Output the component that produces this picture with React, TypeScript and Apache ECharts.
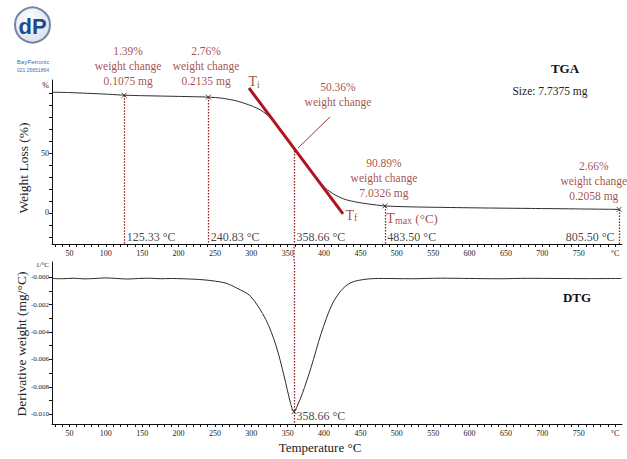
import React, { useEffect, useRef } from 'react';
import * as echarts from 'echarts';

const SERIF = "'Liberation Serif', 'Times New Roman', serif";
const RED = '#8e1c20';
const DARK = '#2b2b2b';

// ---- TGA curve (temperature °C, weight %) ----
const tgaTemp = [26, 50, 100, 125.33, 150, 200, 240.83, 260, 280, 300, 313, 327, 340, 350, 358.66, 375, 389, 402, 415, 430, 451, 483.5, 520, 561, 620, 685, 750, 805.5];
const tgaWeight = [100.8, 100.5, 99.2, 98.3, 97.9, 97.3, 96.7, 95.8, 93.5, 89.5, 85.8, 79.2, 68.5, 60.5, 54.2, 40, 29, 20.5, 15, 11, 8.3, 5.8, 5.0, 4.6, 4.1, 3.7, 3.3, 2.9];

// ---- DTG curve (temperature °C, mg/°C) ----
const dtgTemp = [26, 40, 55, 70, 85, 100, 115, 130, 145, 160, 175, 190, 205, 220, 235, 251, 265, 280, 299, 320, 334, 345, 354, 358.66, 363, 370, 382, 396, 410, 423, 437, 458, 480, 520, 560, 600, 640, 680, 720, 760, 809];
const dtgRate = [-0.0001, -0.00012, -0.00008, -0.00013, -0.0001, -0.00006, -0.0001, -0.00014, -0.0001, -0.00008, -0.00012, -0.0001, -0.00012, -0.00015, -0.0002, -0.0003, -0.00044, -0.0008, -0.0014, -0.0031, -0.005, -0.0072, -0.0092, -0.0098, -0.0094, -0.0085, -0.0066, -0.0041, -0.0021, -0.001, -0.0004, -0.00015, -0.0001, -0.00012, -0.00008, -0.0001, -0.00012, -0.00009, -0.0001, -0.00011, -0.0001];

// ---- marked step points on TGA ----
const stepTemps = [125.33, 240.83, 483.5, 805.5];
const stepWeights = [98.3, 96.7, 5.8, 2.9];
const stepLabels = ['125.33 °C', '240.83 °C', '483.50 °C', '805.50 °C'];

// ---- main decomposition point ----
const peakTemp = 358.66;
const peakWeight = 54.2;
const peakRate = -0.0098;
const peakLabel = '358.66 °C';

// ---- weight change annotations ----
const changeTexts = ['1.39%\nweight change\n0.1075 mg', '2.76%\nweight change\n0.2135 mg', '50.36%\nweight change', '90.89%\nweight change\n7.0326 mg', '2.66%\nweight change\n0.2058 mg'];
const changeTemps = [130.6, 237.8, 419.1, 482.3, 770.7];
const changeWeights = [122.6, 122.6, 99.3, 29.2, 26.6];

// ---- tangent (Ti -> Tf) and pointer ----
const tangentTemp = [296.8, 426.0];
const tangentWeight = [104.3, -0.9];
const pointerTemp = [364.2, 408.1];
const pointerWeight = [54.2, 80.1];

// ---- axis ticks / labels ----
const xLabelValues = [50, 100, 150, 200, 250, 300, 350, 400, 450, 500, 550, 600, 650, 700, 750, 800];
const tgaLabelValues = [0, 50, 106];
const dtgLabelValues = [0, -0.002, -0.004, -0.006, -0.008, -0.01, 0.0009];

const xTicks: number[] = [];
for (let t = 30; t <= 800; t += 10) xTicks.push(t);
const tgaTicks: number[] = [];
for (let v = -20; v <= 100; v += 10) tgaTicks.push(v);
const dtgTicks: number[] = [];
for (let i = 0; i <= 10; i++) dtgTicks.push(-i / 1000);

const X_MIN = 26;
const X_MAX = 809.5;
const TGA_MIN = -26;
const TGA_MAX = 111;
const DTG_MIN = -0.0107;
const DTG_MAX = 0.0011;
const GAP_BOTTOM = -41; // TGA-axis value at the top of the DTG panel

function xAxisCfg(gridIndex: number) {
  return {
    type: 'value',
    gridIndex,
    min: X_MIN,
    max: X_MAX,
    axisLine: { show: true, onZero: false, lineStyle: { color: '#111', width: 1 } },
    axisTick: { show: true, length: 3, customValues: xTicks, lineStyle: { color: '#111' } },
    axisLabel: {
      show: true,
      customValues: xLabelValues,
      formatter: (v: number) => (v === 800 ? '°C' : String(v)),
      fontSize: 8,
      fontFamily: SERIF,
      color: '#222',
      margin: 5,
    },
    splitLine: { show: false },
  };
}

const transparent = 'rgba(0,0,0,0)';
const dotted = [1.5, 1.5];

export default function App() {
  const ref = useRef<HTMLDivElement>(null);
  useEffect(() => {
    if (!ref.current) return;
    const chart = echarts.init(ref.current, undefined, { renderer: 'svg' });
    const crossSymbol = 'path://M0 0L10 10M10 0L0 10';
    const option: any = {
      animation: false,
      backgroundColor: '#ffffff',
      grid: [
        { left: 52, right: 5, top: 80, height: 164 },
        { left: 52, right: 5, top: 262, height: 162 },
      ],
      xAxis: [xAxisCfg(0), xAxisCfg(1)],
      yAxis: [
        {
          type: 'value',
          gridIndex: 0,
          min: TGA_MIN,
          max: TGA_MAX,
          axisLine: { show: true, onZero: false, lineStyle: { color: '#111', width: 1 } },
          axisTick: { show: true, length: 3, customValues: tgaTicks, lineStyle: { color: '#111' } },
          axisLabel: {
            show: true,
            customValues: tgaLabelValues,
            formatter: (v: number) => (v > 100 ? '%' : String(v)),
            fontSize: 8,
            fontFamily: SERIF,
            color: '#222',
            margin: 3,
          },
          splitLine: { show: false },
        },
        {
          type: 'value',
          gridIndex: 1,
          min: DTG_MIN,
          max: DTG_MAX,
          axisLine: { show: true, onZero: false, lineStyle: { color: '#111', width: 1 } },
          axisTick: { show: true, length: 3, customValues: dtgTicks, lineStyle: { color: '#111' } },
          axisLabel: {
            show: true,
            customValues: dtgLabelValues,
            formatter: (v: number) => (v > 0.0005 ? '1/°C' : '-' + Math.abs(v).toFixed(3)),
            fontSize: 7,
            fontFamily: SERIF,
            color: '#222',
            margin: 3,
          },
          splitLine: { show: false },
        },
      ],
      series: [
        {
          type: 'line',
          name: 'TGA',
          xAxisIndex: 0,
          yAxisIndex: 0,
          data: tgaTemp.map((t, i) => [t, tgaWeight[i]]),
          showSymbol: false,
          smooth: 0.2,
          clip: false,
          lineStyle: { color: DARK, width: 1 },
          z: 3,
          markLine: {
            silent: true,
            symbol: ['none', 'none'],
            label: { show: false },
            lineStyle: { color: RED, type: dotted, width: 1.3 },
            data: [
              ...stepTemps.map((t, i) => [{ coord: [t, stepWeights[i]] }, { coord: [t, TGA_MIN] }]),
              [{ coord: [peakTemp, peakWeight] }, { coord: [peakTemp, TGA_MIN] }],
            ],
          },
        },
        {
          type: 'line',
          name: 'gap drop',
          xAxisIndex: 0,
          yAxisIndex: 0,
          data: [[peakTemp, TGA_MIN], [peakTemp, GAP_BOTTOM]],
          showSymbol: false,
          clip: false,
          silent: true,
          lineStyle: { color: RED, type: dotted, width: 1.3 },
        },
        {
          type: 'line',
          name: 'tangent',
          xAxisIndex: 0,
          yAxisIndex: 0,
          data: tangentTemp.map((t, i) => [t, tangentWeight[i]]),
          showSymbol: false,
          clip: false,
          lineStyle: { color: '#b0141c', width: 3 },
          z: 4,
        },
        {
          type: 'line',
          name: 'pointer',
          xAxisIndex: 0,
          yAxisIndex: 0,
          data: pointerTemp.map((t, i) => [t, pointerWeight[i]]),
          showSymbol: false,
          clip: false,
          lineStyle: { color: '#9a3a3a', width: 1 },
          z: 4,
        },
        {
          type: 'scatter',
          name: 'steps',
          xAxisIndex: 0,
          yAxisIndex: 0,
          symbol: crossSymbol,
          symbolSize: 5,
          clip: false,
          itemStyle: { color: 'none', borderColor: '#222', borderWidth: 1 },
          data: stepTemps.map((t, i) => [t, stepWeights[i]]),
          z: 5,
        },
        {
          type: 'scatter',
          name: 'temp labels',
          xAxisIndex: 0,
          yAxisIndex: 0,
          symbolSize: 1,
          clip: false,
          itemStyle: { color: transparent },
          silent: true,
          data: [
            ...stepTemps.map((t, i) => ({
              value: [t, -20.1],
              label: {
                show: true,
                formatter: stepLabels[i],
                position: i === stepTemps.length - 1 ? 'left' : 'right',
                distance: i === stepTemps.length - 1 ? 4 : 2,
                fontSize: 12,
                fontFamily: SERIF,
                color: '#111',
              },
            })),
            {
              value: [peakTemp, -20.1],
              label: { show: true, formatter: peakLabel, position: 'right', distance: 2, fontSize: 12, fontFamily: SERIF, color: '#111' },
            },
            {
              value: [483.5, -4.3],
              label: {
                show: true,
                formatter: '{t|T}{s|max}{n| (°C)}',
                position: 'right',
                distance: 1,
                rich: {
                  t: { fontSize: 14, fontFamily: SERIF, color: RED },
                  s: { fontSize: 10, fontFamily: SERIF, color: RED, padding: [4, 0, 0, 0] },
                  n: { fontSize: 13, fontFamily: SERIF, color: RED },
                },
              },
            },
            {
              value: [295.5, 109.4],
              label: {
                show: true,
                formatter: '{t|T}{s|i}',
                position: 'right',
                distance: 0,
                rich: {
                  t: { fontSize: 14, fontFamily: SERIF, color: RED },
                  s: { fontSize: 10, fontFamily: SERIF, color: RED, padding: [5, 0, 0, 0] },
                },
              },
            },
            {
              value: [428.7, -1.8],
              label: {
                show: true,
                formatter: '{t|T}{s|f}',
                position: 'right',
                distance: 0,
                rich: {
                  t: { fontSize: 14, fontFamily: SERIF, color: RED },
                  s: { fontSize: 10, fontFamily: SERIF, color: RED, padding: [5, 0, 0, 0] },
                },
              },
            },
            ...changeTexts.map((txt, i) => ({
              value: [changeTemps[i], changeWeights[i]],
              label: {
                show: true,
                formatter: txt,
                position: 'inside',
                align: 'center',
                verticalAlign: 'middle',
                fontSize: 11.5,
                lineHeight: 15,
                fontFamily: SERIF,
                color: RED,
              },
            })),
          ],
          z: 6,
        },
        {
          type: 'line',
          name: 'DTG',
          xAxisIndex: 1,
          yAxisIndex: 1,
          data: dtgTemp.map((t, i) => [t, dtgRate[i]]),
          showSymbol: false,
          smooth: 0.3,
          clip: false,
          lineStyle: { color: DARK, width: 1 },
          markLine: {
            silent: true,
            symbol: ['none', 'none'],
            label: { show: false },
            lineStyle: { color: RED, type: dotted, width: 1.3 },
            data: [[{ coord: [peakTemp, DTG_MAX] }, { coord: [peakTemp, DTG_MIN] }]],
          },
        },
        {
          type: 'scatter',
          name: 'DTG peak',
          xAxisIndex: 1,
          yAxisIndex: 1,
          symbol: crossSymbol,
          symbolSize: 5,
          clip: false,
          itemStyle: { color: 'none', borderColor: '#222', borderWidth: 1 },
          data: [[peakTemp, peakRate]],
          z: 5,
        },
        {
          type: 'scatter',
          name: 'DTG label',
          xAxisIndex: 1,
          yAxisIndex: 1,
          symbolSize: 1,
          clip: false,
          silent: true,
          itemStyle: { color: transparent },
          data: [
            {
              value: [peakTemp, -0.01012],
              label: { show: true, formatter: peakLabel, position: 'right', distance: 2, fontSize: 12, fontFamily: SERIF, color: '#111' },
            },
          ],
        },
      ],
      graphic: [
        // logo
        {
          type: 'circle',
          shape: { cx: 32.5, cy: 25, r: 17.5 },
          style: {
            fill: new echarts.graphic.RadialGradient(0.4, 0.35, 0.7, [
              { offset: 0, color: '#ffffff' },
              { offset: 1, color: '#d8e0ea' },
            ]),
            stroke: '#6f86a6',
            lineWidth: 2,
          },
        },
        {
          type: 'text',
          x: 32.5,
          y: 26,
          style: { text: 'dP', fill: '#1d4a8a', font: 'bold 22px "Liberation Sans", Arial, sans-serif', align: 'center', verticalAlign: 'middle' },
        },
        {
          type: 'text',
          x: 33,
          y: 62,
          style: { text: 'BayPetronic', fill: '#3a6fb0', font: '6px "Liberation Sans", Arial, sans-serif', align: 'center', verticalAlign: 'middle' },
        },
        {
          type: 'text',
          x: 33,
          y: 70,
          style: { text: '021 26651864', fill: '#3a6fb0', font: '5px "Liberation Sans", Arial, sans-serif', align: 'center', verticalAlign: 'middle' },
        },
        // panel titles
        {
          type: 'text',
          x: 565,
          y: 68,
          style: { text: 'TGA', fill: '#111', font: `bold 13px ${SERIF}`, align: 'center', verticalAlign: 'middle' },
        },
        {
          type: 'text',
          x: 550,
          y: 91,
          style: { text: 'Size: 7.7375 mg', fill: '#222', font: `11.5px ${SERIF}`, align: 'center', verticalAlign: 'middle' },
        },
        {
          type: 'text',
          x: 577,
          y: 297,
          style: { text: 'DTG', fill: '#111', font: `bold 13px ${SERIF}`, align: 'center', verticalAlign: 'middle' },
        },
        // axis titles
        {
          type: 'text',
          x: 23,
          y: 168,
          rotation: Math.PI / 2,
          style: { text: 'Weight Loss (%)', fill: '#222', font: `13.5px ${SERIF}`, align: 'center', verticalAlign: 'middle' },
        },
        {
          type: 'text',
          x: 21,
          y: 344,
          rotation: Math.PI / 2,
          style: { text: 'Derivative weight (mg/°C)', fill: '#222', font: `13.5px ${SERIF}`, align: 'center', verticalAlign: 'middle' },
        },
        {
          type: 'text',
          x: 320,
          y: 447,
          style: { text: 'Temperature °C', fill: '#222', font: `13px ${SERIF}`, align: 'center', verticalAlign: 'middle' },
        },
      ],
    };
    chart.setOption(option);
    return () => chart.dispose();
  }, []);
  return <div ref={ref} style={{ position: 'fixed', left: 0, top: 0, width: 627, height: 459 }} />;
}
